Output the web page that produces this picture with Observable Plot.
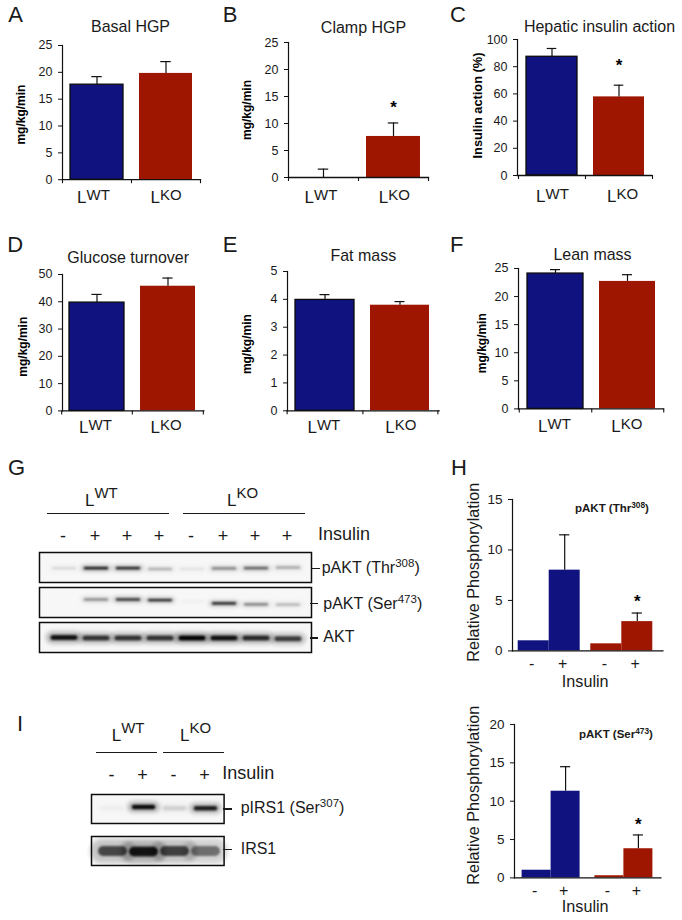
<!DOCTYPE html>
<html>
<head>
<meta charset="utf-8">
<script src="https://cdn.jsdelivr.net/npm/d3@7"></script>
<script src="https://cdn.jsdelivr.net/npm/@observablehq/plot@0.6"></script>
<style>
  html, body { margin: 0; padding: 0; background: #fff; }
  #page { position: relative; width: 682px; height: 920px; overflow: hidden; font-family: "Liberation Sans", Arial, sans-serif; color: #1a1a1a; }
  #page svg { position: absolute; overflow: visible; }
  .lab { position: absolute; line-height: 0; white-space: nowrap; }
  .hl { position: absolute; height: 1.3px; background: #1a1a1a; }
</style>
</head>
<body>
<div id="page"></div>
<script>
// ---------- data ----------
const groups = ["LWT", "LKO"];
const basalHGP = [17.7, 19.8], basalHGPUpper = [19.2, 22];
const clampHGP = [0, 7.6], clampHGPUpper = [1.55, 10.1];
const insulinAction = [87.3, 57.8], insulinActionUpper = [93.4, 66.4];
const glucoseTurnover = [39.7, 45.7], glucoseTurnoverUpper = [42.7, 48.7];
const fatMass = [3.98, 3.79], fatMassUpper = [4.17, 3.92];
const leanMass = [24.1, 22.7], leanMassUpper = [24.8, 23.9];

const insulinSigns = ["-", "+", "-", "+"];
const phosphoGroups = ["LWT", "LWT", "LKO", "LKO"];
const thr308 = [1, 8, 0.7, 2.9], thr308Upper = [null, 11.5, null, 3.75];
const ser473 = [1, 11.3, 0.28, 3.8], ser473Upper = [null, 14.5, null, 5.6];

const laneSignsG = ["-", "+", "+", "+", "-", "+", "+", "+"];
const rowsG = ["pAKT (Thr308)", "pAKT (Ser473)", "AKT"];
const inkThr = [0.1, 0.95, 0.9, 0.24, 0.07, 0.45, 0.6, 0.28];
const rowThr = [0.52, 0.52, 0.52, 0.55, 0.55, 0.53, 0.52, 0.5];
const inkSer = [0, 0.45, 0.9, 0.85, 0.03, 0.9, 0.45, 0.24];
const rowSer = [0.42, 0.4, 0.4, 0.42, 0.47, 0.53, 0.56, 0.57];
const inkAkt = [0.9, 0.75, 0.75, 0.75, 1, 0.92, 0.8, 0.7];
const rowAkt = [0.5, 0.52, 0.52, 0.52, 0.52, 0.52, 0.52, 0.54];

const laneSignsI = ["-", "+", "-", "+"];
const rowsI = ["pIRS1 (Ser307)", "IRS1"];
const inkIrsP = [0.03, 0.95, 0.12, 0.85];
const rowIrsP = [0.47, 0.43, 0.47, 0.47];
const inkIrs = [0.65, 0.9, 0.68, 0.48];
const rowIrs = [0.5, 0.52, 0.5, 0.5];

const BLUE = "#10137f", RED = "#9e1600", INK = "#1a1a1a";
const page = document.getElementById("page");
const FONT = "Liberation Sans";

function put(svg, left, top) {
  svg.style.left = left + "px";
  svg.style.top = top + "px";
  page.appendChild(svg);
}
function label(x, baseline, html, size, weight) {
  const d = document.createElement("div");
  d.className = "lab";
  d.style.left = x + "px";
  d.style.top = (baseline - 0.3465 * size) + "px";
  d.style.fontSize = size + "px";
  if (weight) d.style.fontWeight = weight;
  d.innerHTML = html;
  page.appendChild(d);
}
function sup(t, ratio = 0.72) {
  return `<span style="font-size:${ratio}em;position:relative;top:-0.52em">${t}</span>`;
}
function hline(x1, x2, y) {
  const d = document.createElement("div");
  d.className = "hl";
  d.style.left = x1 + "px";
  d.style.width = (x2 - x1) + "px";
  d.style.top = y + "px";
  page.appendChild(d);
}

// ---------- A–F ----------
function barPanel(c) {
  const mL = 50, mR = 32, mT = 30, mB = 30;
  const left = c.axis[0] - mL, top = c.yPix[0] - mT;
  const data = groups.map((g, i) => ({group: g, value: c.values[i], upper: c.upper[i]}));
  const step = c.barRange[1] - c.barRange[0] - c.barWidth;
  const tickStep = (c.axis[1] - c.axis[0]) / 4;
  const capInset = (c.barWidth - 10.5) / 2;
  const marks = [
    Plot.barY(data, {x: "group", y: "value", fill: "group"}),
    Plot.barY(data.filter(d => d.group === "LWT" && d.value > 0), {x: "group", y: "value", fill: "none", stroke: "#0a0a0a", strokeWidth: 1.3}),
    Plot.ruleX(data, {x: "group", y1: "value", y2: "upper", stroke: "#111", strokeWidth: 1.2}),
    Plot.tickY(data, {x: "group", y: "upper", stroke: "#111", strokeWidth: 1.2, insetLeft: capInset, insetRight: capInset}),
    Plot.frame({anchor: "left", stroke: "#111", strokeWidth: 1.2}),
    Plot.frame({anchor: "bottom", stroke: "#111", strokeWidth: 1.3}),
    Plot.axisY({ticks: c.ticks, tickFormat: "d", tickSize: 4, tickPadding: 6, fontSize: 12.5, label: null, stroke: "#111", fill: INK}),
    Plot.ruleX(groups, {x: d => d, dx: tickStep, y1: 0, y2: 0, insetBottom: -4, stroke: "#111", strokeWidth: 1.1}),
    Plot.ruleX(groups.slice(0, 1), {x: d => d, dx: -tickStep, y1: 0, y2: 0, insetBottom: -4, stroke: "#111", strokeWidth: 1.1}),
    Plot.text([c.title], {frameAnchor: "top", lineAnchor: "bottom", dx: c.titleDx, dy: c.titleDy, fontSize: 16, fill: INK}),
    Plot.text([c.yLabel], {frameAnchor: "left", textAnchor: "middle", lineAnchor: "bottom", rotate: -90, dx: c.yLabelDx, dy: c.yLabelDy, fontSize: c.yLabelSize || 12, fontWeight: "bold", fill: "#000"})
  ];
  groups.forEach((g, i) => {
    const shift = c.labelShift[i];
    marks.push(
      Plot.text([g], {x: d => d, text: d => d.slice(0, 1), frameAnchor: "bottom", textAnchor: "start", dx: shift, dy: c.labelDy, fontSize: 17, fill: INK}),
      Plot.text([g], {x: d => d, text: d => d.slice(1), frameAnchor: "bottom", textAnchor: "start", dx: shift + 9.5, dy: c.labelDy - 3, fontSize: 15, fill: INK})
    );
  });
  if (c.star != null) {
    marks.push(Plot.text(data.filter(d => d.group === c.star), {x: "group", y: "upper", text: () => "*", dy: c.starDy, fontSize: 17, fontWeight: "bold", fill: "#000"}));
  }
  const svg = Plot.plot({
    width: c.axis[1] - c.axis[0] + mL + mR,
    height: c.yPix[1] - c.yPix[0] + mT + mB,
    marginLeft: mL, marginRight: mR, marginTop: mT, marginBottom: mB,
    style: {background: "transparent", fontFamily: FONT, overflow: "visible"},
    x: {type: "band", domain: groups, axis: null, range: [c.barRange[0] - left, c.barRange[1] - left], paddingInner: 1 - c.barWidth / step, paddingOuter: 0, align: 0.5},
    y: {domain: [0, c.max]},
    color: {domain: groups, range: [BLUE, RED]},
    marks
  });
  put(svg, left, top);
}

const panels = [
  {title: "Basal HGP", yLabel: "mg/kg/min", axis: [62, 200], yPix: [44.5, 178.7], barRange: [70, 192], barWidth: 53, max: 25, ticks: [0, 5, 10, 15, 20, 25],
   values: basalHGP, upper: basalHGPUpper, titleDx: -1, titleDy: -13, yLabelDx: -37.7, yLabelDy: 2, labelShift: [-20, -15.5], labelDy: 23},
  {title: "Clamp HGP", yLabel: "mg/kg/min", axis: [288, 428], yPix: [41.7, 176.7], barRange: [296, 420], barWidth: 54, max: 25, ticks: [0, 5, 10, 15, 20, 25],
   values: clampHGP, upper: clampHGPUpper, titleDx: 5, titleDy: -10, yLabelDx: -37.5, yLabelDy: 0, labelShift: [-19, -14.7], labelDy: 25, star: "LKO", starDy: -15},
  {title: "Hepatic insulin action", yLabel: "Insulin action (%)", yLabelSize: 12.8, axis: [517, 651], yPix: [39.3, 175.3], barRange: [525.3, 645], barWidth: 52, max: 100, ticks: [0, 20, 40, 60, 80, 100],
   values: insulinAction, upper: insulinActionUpper, titleDx: 15, titleDy: -7.6, yLabelDx: -35.5, yLabelDy: -2, labelShift: [-16, -12], labelDy: 26, star: "LKO", starDy: -20},
  {title: "Glucose turnover", yLabel: "mg/kg/min", axis: [62, 203.3], yPix: [274.3, 410.7], barRange: [69.3, 195.7], barWidth: 55.3, max: 50, ticks: [0, 10, 20, 30, 40, 50],
   values: glucoseTurnover, upper: glucoseTurnoverUpper, titleDx: -5, titleDy: -11, yLabelDx: -36, yLabelDy: 4, labelShift: [-18, -17.5], labelDy: 22},
  {title: "Fat mass", yLabel: "mg/kg/min", axis: [286.7, 438.3], yPix: [270.7, 410], barRange: [294.3, 429], barWidth: 59.5, max: 5, ticks: [0, 1, 2, 3, 4, 5],
   values: fatMass, upper: fatMassUpper, titleDx: 0, titleDy: -10.7, yLabelDx: -36.7, yLabelDy: 3, labelShift: [-17.6, -14.7], labelDy: 22},
  {title: "Lean mass", yLabel: "mg/kg/min", axis: [517.7, 662.7], yPix: [268.3, 408.7], barRange: [526, 655], barWidth: 56.5, max: 25, ticks: [0, 5, 10, 15, 20, 25],
   values: leanMass, upper: leanMassUpper, titleDx: 1.5, titleDy: -8, yLabelDx: -32.7, yLabelDy: 4.5, labelShift: [-17.5, -16.3], labelDy: 23}
];
panels.forEach(barPanel);

// ---------- H ----------
function phosphoPanel(c) {
  const mL = 45, mR = 15, mT = 10, mB = 40;
  const left = c.axis[0] - mL, top = c.yPix[0] - mT;
  const keys = insulinSigns.map((s, i) => phosphoGroups[i] + s);
  const data = keys.map((k, i) => ({key: k, group: phosphoGroups[i], sign: insulinSigns[i], value: c.values[i], upper: c.upper[i]}));
  const bw = (c.barRange[1] - c.barRange[0]) / 4;
  const capInset = (bw - 10.5) / 2;
  const marks = [
    Plot.frame({anchor: "left", stroke: "#111", strokeWidth: 1.2}),
    Plot.axisY({ticks: c.ticks, tickFormat: "d", tickSize: 4, tickPadding: 6, fontSize: 13.5, label: null, stroke: "#111", fill: INK}),
    Plot.text([c.yLabel], {frameAnchor: "left", textAnchor: "middle", lineAnchor: "bottom", rotate: -90, dx: 479.3 - c.axis[0], dy: c.yLabelDy, fontSize: 16.2, fill: INK})
  ];
  groups.forEach((g, i) => {
    const dx = i === 0 ? -c.gap : c.gap;
    const d = data.filter(r => r.group === g);
    const e = d.filter(r => r.upper != null);
    marks.push(
      Plot.barY(d, {x: "key", y: "value", fill: "group", dx}),
      Plot.ruleX(e, {x: "key", y1: "value", y2: "upper", dx, stroke: "#111", strokeWidth: 1.2}),
      Plot.tickY(e, {x: "key", y: "upper", dx, stroke: "#111", strokeWidth: 1.2, insetLeft: capInset, insetRight: capInset}),
      Plot.text(d, {x: "key", text: "sign", frameAnchor: "bottom", lineAnchor: "middle", dx: dx - 2, dy: 12.5, fontSize: 16, fill: INK})
    );
  });
  marks.push(
    Plot.frame({anchor: "bottom", stroke: "#111", strokeWidth: 1.3}),
    Plot.text(data.filter(d => d.key === "LKO+"), {x: "key", y: "upper", text: () => "*", dx: c.gap, dy: c.starDy, fontSize: 17, fontWeight: "bold", fill: "#000"}),
    Plot.text(["Insulin"], {frameAnchor: "bottom", lineAnchor: "bottom", dy: c.insulinDy, dx: c.insulinDx, fontSize: 16.2, fill: INK})
  );
  const svg = Plot.plot({
    width: c.axis[1] - c.axis[0] + mL + mR,
    height: c.yPix[1] - c.yPix[0] + mT + mB,
    marginLeft: mL, marginRight: mR, marginTop: mT, marginBottom: mB,
    style: {background: "transparent", fontFamily: FONT, overflow: "visible"},
    x: {type: "band", domain: keys, axis: null, range: [c.barRange[0] - left, c.barRange[1] - left], padding: 0},
    y: {domain: [0, c.max]},
    color: {domain: groups, range: [BLUE, RED]},
    marks
  });
  put(svg, left, top);
}
phosphoPanel({yLabel: "Relative Phosphorylation", axis: [512.3, 662.7], yPix: [499.3, 650.7], barRange: [523, 648], gap: 5.3, max: 15, ticks: [0, 5, 10, 15],
  values: thr308, upper: thr308Upper, yLabelDy: -3, starDy: -11, insulinDy: 36.5, insulinDx: -2.5});
phosphoPanel({yLabel: "Relative Phosphorylation", axis: [514.3, 660.7], yPix: [724.3, 877.7], barRange: [528.5, 646], gap: 7.4, max: 20, ticks: [0, 5, 10, 15, 20],
  values: ser473, upper: ser473Upper, yLabelDy: -6, starDy: -10, insulinDy: 34, insulinDx: -2.5});

// ---------- blots ----------
function blot(c) {
  const mL = 10, mR = 10, mT = 40, mB = 6;
  const left = c.frameX[0] - mL, top = c.frameY[0] - mT;
  const data = [];
  c.rows.forEach((row, r) => c.lanes.forEach((lane, i) => {
    data.push({row, lane, ink: c.ink[r][i], pos: c.pos[r][i], thick: c.thick[r]});
  }));
  const first = c.rows[0];
  const svg = Plot.plot({
    width: c.frameX[1] - c.frameX[0] + mL + mR,
    height: c.frameY[1] - c.frameY[0] + mT + mB,
    marginLeft: mL, marginRight: mR, marginTop: mT, marginBottom: mB,
    style: {background: "transparent", fontFamily: FONT, overflow: "visible"},
    x: {type: "band", domain: c.lanes, axis: null, range: [c.laneRange[0] - left, c.laneRange[1] - left], padding: 0},
    y: {domain: [1, 0], axis: null},
    fy: {domain: c.rows, axis: null, paddingInner: c.rowPadding, paddingOuter: 0},
    opacity: {domain: [0, 1], range: [0, 1]},
    marks: [
      Plot.frame({fill: "#f7f7f7", stroke: "#0d0d0d", strokeWidth: 1.5}),
      Plot.tickY(data, {x: "lane", y: "pos", fy: "row", stroke: "#000", strokeWidth: d => d.thick * 2.4, strokeOpacity: d => d.ink * 0.3, insetLeft: c.inset - 1, insetRight: c.inset - 1, strokeLinecap: "round", imageFilter: "blur(2.2px)"}),
      Plot.tickY(data, {x: "lane", y: "pos", fy: "row", stroke: "#000", strokeWidth: "thick", strokeOpacity: "ink", insetLeft: c.inset, insetRight: c.inset, strokeLinecap: "round", imageFilter: "blur(1.1px)"}),
      Plot.text(c.lanes, {x: d => d, fy: () => first, text: (d, i) => c.signs[i], frameAnchor: "top", lineAnchor: "middle", dx: -1.5, dy: c.signDy, fontSize: 18, fill: INK})
    ]
  });
  put(svg, left, top);
}

blot({rows: rowsG, lanes: d3.range(1, 9).map(String), signs: laneSignsG,
  ink: [inkThr, inkSer, inkAkt], pos: [rowThr, rowSer, rowAkt], thick: [2.4, 2.2, 5],
  frameX: [38.5, 310.5], frameY: [552.3, 653.3], laneRange: [46, 304], rowPadding: 0.142, inset: 5, signDy: -16.5});
blot({rows: rowsI, lanes: d3.range(1, 5).map(String), signs: laneSignsI,
  ink: [inkIrsP, inkIrs], pos: [rowIrsP, rowIrs], thick: [4.5, 10],
  frameX: [90.7, 223.3], frameY: [793.3, 865.7], laneRange: [95, 222], rowPadding: 0.3, inset: 6, signDy: -19.5});

// ---------- annotations ----------
const L = g => `L${sup(g, 0.88)}`;
[["A", 8.3, 22.7], ["B", 222.7, 22.7], ["C", 450, 22.7], ["D", 7.3, 253], ["E", 222.7, 253], ["F", 450, 253], ["G", 8, 476], ["H", 451, 476], ["I", 17, 731.7]]
  .forEach(([t, x, y]) => label(x, y, t, 22));

label(85, 507, L("WT"), 17);
label(227, 507, L("KO"), 17);
hline(46.7, 169.3, 513);
hline(183, 305, 513);
label(318, 540.7, "Insulin", 18);
hline(311.5, 320, 568);
label(321.7, 574, `pAKT (Thr${sup("308")})`, 16);
hline(310, 318.3, 603);
label(323.3, 610, `pAKT (Ser${sup("473")})`, 16);
hline(310, 318.3, 637.4);
label(323.3, 642.7, "AKT", 16);

label(111.7, 741.7, L("WT"), 17);
label(180, 741.7, L("KO"), 17);
hline(96.3, 157.3, 751.6);
hline(163.3, 224.3, 751.6);
label(222.3, 779, "Insulin", 18);
hline(223.3, 232.3, 808.4);
label(240.7, 814, `pIRS1 (Ser${sup("307")})`, 16);
hline(223.3, 232.3, 848.6);
label(240.7, 854.3, "IRS1", 16);

label(575, 512, `pAKT (Thr${sup("308")})`, 11.5, "bold");
label(579, 738, `pAKT (Ser${sup("473")})`, 11.5, "bold");
</script>
</body>
</html>
